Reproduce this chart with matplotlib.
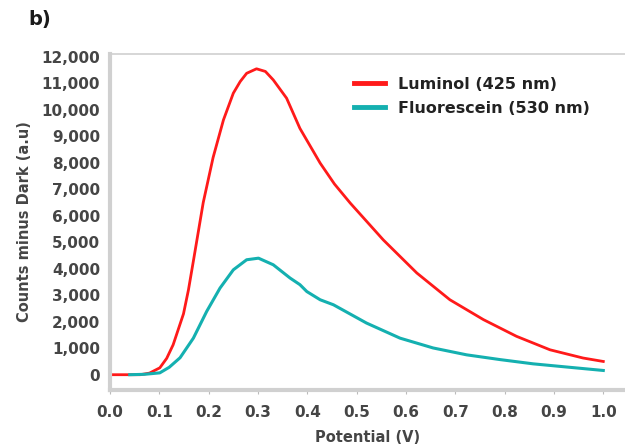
import matplotlib
matplotlib.use("Agg")
import matplotlib.pyplot as plt
from matplotlib.ticker import FuncFormatter

# values: potential (V) -> counts minus dark
lum_x = [0.00, 0.03, 0.061, 0.08, 0.101, 0.115, 0.128, 0.149, 0.159, 0.17, 0.189,
         0.209, 0.23, 0.25, 0.264, 0.277, 0.297, 0.315, 0.331, 0.358, 0.385, 0.426,
         0.455, 0.487, 0.554, 0.622, 0.689, 0.757, 0.824, 0.892, 0.959, 1.0]
lum_y = [0, 0, 0, 60, 260, 620, 1130, 2300, 3200, 4400, 6500,
         8200, 9620, 10630, 11070, 11380, 11550, 11450, 11130, 10440, 9300, 7990,
         7200, 6480, 5090, 3840, 2830, 2080, 1450, 940, 630, 500]

flu_x = [0.04, 0.07, 0.101, 0.12, 0.142, 0.169, 0.196, 0.223, 0.25, 0.277, 0.301,
         0.331, 0.365, 0.385, 0.399, 0.426, 0.453, 0.52, 0.588, 0.655, 0.723,
         0.791, 0.858, 0.926, 1.0]
flu_y = [0, 15, 70, 280, 640, 1380, 2390, 3270, 3960, 4340, 4400,
         4150, 3650, 3400, 3140, 2830, 2640, 1950, 1380, 1010, 750,
         570, 410, 290, 160]

xticks = [0.0, 0.1, 0.2, 0.3, 0.4, 0.5, 0.6, 0.7, 0.8, 0.9, 1.0]
yticks = list(range(0, 12001, 1000))

fig = plt.figure(figsize=(6.25, 4.46), dpi=100)
ax = fig.add_axes([0.176, 0.126, 0.824, 0.753])

ax.plot(lum_x, lum_y, color='#ff1a1a', lw=2, label='Luminol (425 nm)')
ax.plot(flu_x, flu_y, color='#14b0b0', lw=2.2, label='Fluorescein (530 nm)')

ax.set_xlim(0, 1.044)
ax.set_ylim(-570, 12110)
ax.set_xticks(xticks)
ax.set_yticks(yticks)
ax.xaxis.set_major_formatter(FuncFormatter(lambda v, p: f'{v:.1f}'))
ax.yaxis.set_major_formatter(FuncFormatter(lambda v, p: f'{int(v):,}'))

for s in ['left', 'bottom']:
    ax.spines[s].set_color('#d0d0d0')
    ax.spines[s].set_linewidth(3)
ax.spines['top'].set_color('#cfcfcf')
ax.spines['top'].set_linewidth(1.2)
ax.spines['right'].set_visible(False)

ax.tick_params(axis='x', length=3, color='#bbbbbb', pad=8, labelsize=11, labelcolor='#454545')
ax.tick_params(axis='y', length=0, pad=7, labelsize=11, labelcolor='#454545')
for lab in ax.get_xticklabels() + ax.get_yticklabels():
    lab.set_fontweight('bold')

ax.set_xlabel('Potential (V)', fontsize=10.5, fontweight='bold', color='#454545', labelpad=7)
ax.set_ylabel('Counts minus Dark (a.u)', fontsize=10.5, fontweight='bold', color='#454545', labelpad=7)

leg = ax.legend(loc='upper left', bbox_to_anchor=(0.445, 0.975), frameon=False,
                prop={'weight': 'bold', 'size': 11.5}, handlelength=2.0,
                labelspacing=0.55, handletextpad=0.8)
for t in leg.get_texts():
    t.set_color('#222222')
for h in leg.get_lines():
    h.set_linewidth(3.5)

fig.text(0.045, 0.945, 'b)', fontsize=14, fontweight='bold', color='#1a1a1a')

fig.savefig('out.png', dpi=100)
